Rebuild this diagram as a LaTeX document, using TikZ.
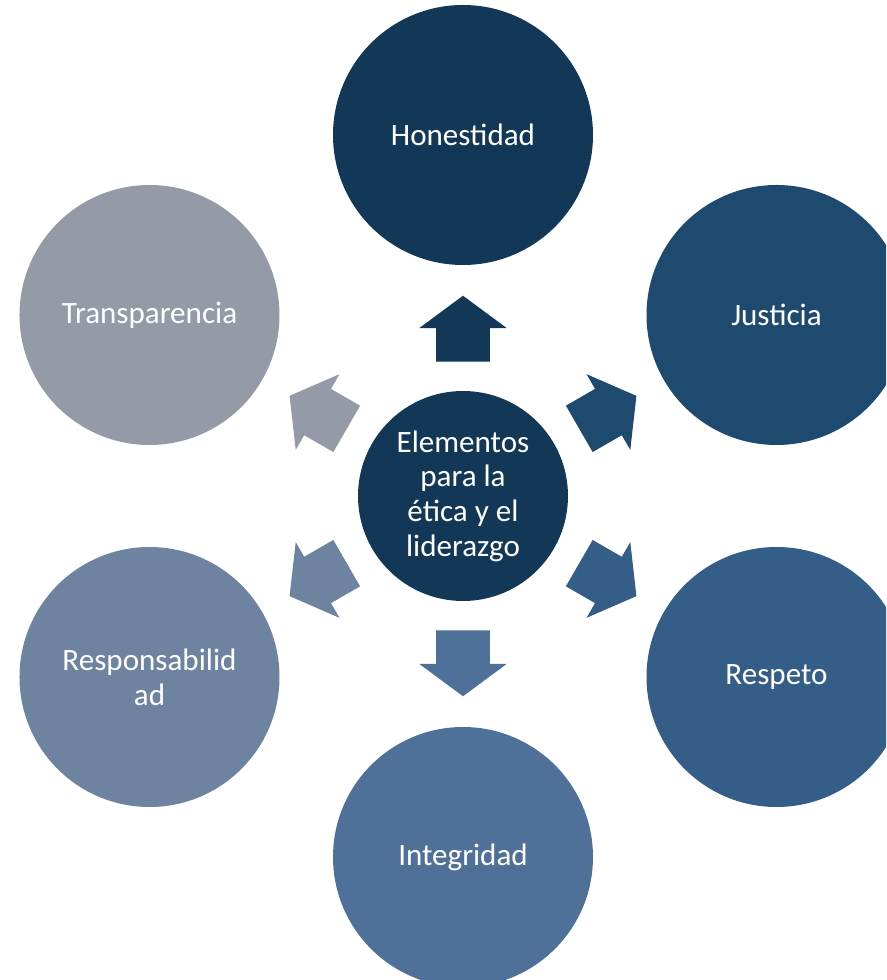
\documentclass[tikz,border=0pt]{standalone}
\usepackage{fontspec}
\setmainfont{Carlito}
\usetikzlibrary{shapes.arrows}
\definecolor{tonoA}{HTML}{133857}
\definecolor{tonoB}{HTML}{1F4A6F}
\definecolor{tonoC}{HTML}{345D88}
\definecolor{tonoD}{HTML}{4E7099}
\definecolor{tonoE}{HTML}{6E83A0}
\definecolor{tonoF}{HTML}{949BA7}
\tikzset{
  elemento/.style={circle, minimum size=195pt, inner sep=0pt, text=white, align=center, font=\fontsize{23.3}{26}\selectfont},
  flecha/.style={single arrow, draw=none, minimum height=49.5pt, minimum width=65.25pt, single arrow head extend=12.75pt, single arrow tip angle=107, inner xsep=0pt, inner ysep=19.875pt, anchor=tail}
}
\begin{document}
\begin{tikzpicture}[x=0.75pt,y=0.75pt]
\clip (-463,-484) rectangle (423,496);
\node[elemento, fill=tonoA, minimum size=157.5pt] (centro) at (0,0) {Elementos\\para la\\ética y el\\liderazgo};
\node[elemento, fill=tonoA] (honestidad) at (90:361) {Honestidad};
\node[elemento, fill=tonoB] (justicia) at (30:362) {Justicia};
\node[elemento, fill=tonoC] (respeto) at (-30:362) {Respeto};
\node[elemento, fill=tonoD] (integridad) at (-90:361) {Integridad};
\node[elemento, fill=tonoE] (responsabilidad) at (-150:362) {Responsabilid\\ad};
\node[elemento, fill=tonoF] (transparencia) at (150:362) {Transparencia};
% flechas
\node[flecha, fill=tonoA, rotate=90] (f-honestidad) at (90:134) {};
\node[flecha, fill=tonoB, rotate=30] (f-justicia) at (30:134) {};
\node[flecha, fill=tonoC, rotate=-30] (f-respeto) at (-30:134) {};
\node[flecha, fill=tonoD, rotate=-90] (f-integridad) at (-90:134) {};
\node[flecha, fill=tonoE, rotate=-150] (f-responsabilidad) at (-150:134) {};
\node[flecha, fill=tonoF, rotate=150] (f-transparencia) at (150:134) {};
\end{tikzpicture}
\end{document}
